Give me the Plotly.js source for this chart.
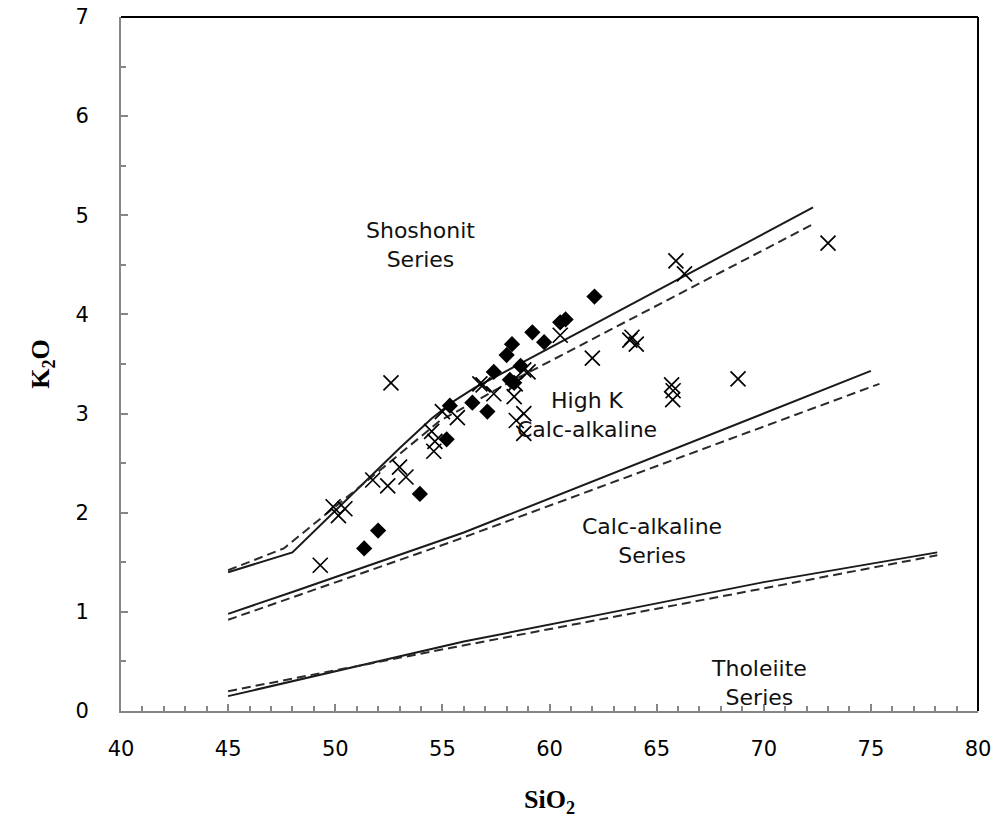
<!DOCTYPE html>
<html><head><meta charset="utf-8">
<script src="https://cdn.plot.ly/plotly-3.0.1.min.js"></script>
<style>html,body{margin:0;padding:0;background:#fff}</style>
</head><body><div id="chart" style="width:995px;height:822px"></div>
<script>
// Sample series: filled diamonds
const diamondSiO2 = [62.1, 60.75, 60.5, 59.2, 59.75, 58.25, 58.0, 58.65, 57.4, 58.15, 58.35, 56.4, 55.35, 57.1, 55.2, 53.95, 52.0, 51.35];
const diamondK2O  = [4.18, 3.95, 3.92, 3.82, 3.72, 3.70, 3.59, 3.48, 3.42, 3.34, 3.31, 3.11, 3.08, 3.02, 2.74, 2.19, 1.82, 1.64];
// Sample series: crosses
const crossSiO2 = [73.0, 65.9, 66.3, 60.5, 62.0, 63.75, 63.85, 64.05, 65.7, 65.77, 65.75, 68.8, 58.8, 59.0, 56.9, 57.4, 58.35, 58.8, 58.45, 58.8, 52.6, 55.0, 55.7, 54.5, 54.65, 54.6, 51.75, 52.45, 53.3, 53.0, 49.9, 50.15, 50.45, 49.3, 58.4, 56.75];
const crossK2O  = [4.72, 4.54, 4.41, 3.79, 3.56, 3.74, 3.77, 3.70, 3.29, 3.23, 3.14, 3.35, 3.44, 3.42, 3.29, 3.20, 3.17, 3.00, 2.93, 2.80, 3.31, 3.02, 2.96, 2.82, 2.72, 2.62, 2.33, 2.27, 2.36, 2.46, 2.06, 1.97, 2.04, 1.47, 3.30, 3.30];
// Boundary lines (solid)
const shoSolidX = [45, 48, 53, 54.5, 55.5, 56.5, 58, 72.3];
const shoSolidY = [1.40, 1.60, 2.65, 2.95, 3.12, 3.26, 3.43, 5.08];
const hkSolidX = [45, 48, 56, 63, 70, 75];
const hkSolidY = [0.98, 1.20, 1.80, 2.40, 3.00, 3.43];
const caSolidX = [45, 48, 56, 63, 70, 78.1];
const caSolidY = [0.15, 0.30, 0.70, 1.00, 1.30, 1.60];
// Boundary lines (dashed)
const shoDashX = [45, 47.6, 52.1, 54.9, 56.5, 58, 72.3];
const shoDashY = [1.42, 1.64, 2.43, 2.93, 3.12, 3.30, 4.91];
const hkDashX = [45, 55.35, 75.4];
const hkDashY = [0.92, 1.70, 3.30];
const caDashX = [45, 55.35, 78.1];
const caDashY = [0.20, 0.635, 1.57];
// Field labels
const fieldText = ["Shoshonit<br>Series", "High K<br>Calc-alkaline", "Calc-alkaline<br>Series", "Tholeiite<br>Series"];
const fieldX = [54.0, 61.75, 64.8, 69.8];
const fieldY = [4.70, 2.99, 1.71, 0.28];
// Axis ticks
const xTicks = [40, 45, 50, 55, 60, 65, 70, 75, 80];
const yTicks = [0, 1, 2, 3, 4, 5, 6, 7];

const solid = {color: '#1a1a1a', width: 2};
const dashed = {color: '#2a2a2a', width: 2, dash: '9px,5px'};
function ln(x, y, line) { return {x: x, y: y, mode: 'lines', line: line, hoverinfo: 'skip', showlegend: false}; }

const traces = [
  ln(shoSolidX, shoSolidY, solid), ln(hkSolidX, hkSolidY, solid), ln(caSolidX, caSolidY, solid),
  ln(shoDashX, shoDashY, dashed), ln(hkDashX, hkDashY, dashed), ln(caDashX, caDashY, dashed),
  {x: crossSiO2, y: crossK2O, mode: 'markers', showlegend: false,
   marker: {symbol: 'x-thin-open', size: 15, color: '#000', line: {color: '#000', width: 1.7}}},
  {x: diamondSiO2, y: diamondK2O, mode: 'markers', showlegend: false,
   marker: {symbol: 'diamond', size: 12.5, color: '#000', line: {width: 0}}}
];

const tickFont = {family: 'DejaVu Sans, Verdana, sans-serif', size: 21, color: '#000'};
const titleFont = {family: 'Liberation Serif, Times New Roman, serif', size: 26, color: '#000', weight: 'bold'};

const layout = {
  width: 995, height: 822,
  margin: {l: 121, r: 17, t: 17, b: 111},
  paper_bgcolor: '#fff', plot_bgcolor: '#fff',
  xaxis: {
    range: [40, 80], tickvals: xTicks, ticktext: xTicks.map(String),
    showgrid: false, zeroline: false, showline: true, linecolor: '#868686', linewidth: 2,
    ticks: 'inside', ticklen: 7, tickwidth: 2, tickcolor: '#868686',
    minor: {dtick: 1, ticks: 'inside', ticklen: 5, tickwidth: 2, tickcolor: '#868686', showgrid: false},
    tickfont: tickFont, ticklabelstandoff: 18,
    title: {text: '<b>SiO<sub>2</sub></b>', font: titleFont, standoff: 30}
  },
  yaxis: {
    range: [0, 7], tickvals: yTicks, ticktext: yTicks.map(String),
    showgrid: false, zeroline: false, showline: true, linecolor: '#868686', linewidth: 2,
    ticks: 'inside', ticklen: 7, tickwidth: 2, tickcolor: '#868686',
    minor: {dtick: 0.5, ticks: 'inside', ticklen: 5, tickwidth: 2, tickcolor: '#868686', showgrid: false},
    tickfont: tickFont, ticklabelstandoff: 26,
    title: {text: '<b>K<sub>2</sub>O</b>', font: titleFont, standoff: 18}
  },
  shapes: [
    {type: 'line', xref: 'paper', yref: 'paper', x0: 0, x1: 1, y0: 1, y1: 1, line: {color: '#000', width: 2}},
    {type: 'line', xref: 'paper', yref: 'paper', x0: 1, x1: 1, y0: 0, y1: 1, line: {color: '#000', width: 2}}
  ],
  annotations: fieldText.map((t, i) => ({
    x: fieldX[i], y: fieldY[i], xref: 'x', yref: 'y', text: t, showarrow: false,
    font: {family: 'DejaVu Sans, Verdana, sans-serif', size: 22, color: '#111'}, align: 'center'
  }))
};

Plotly.newPlot('chart', traces, layout, {displayModeBar: false, staticPlot: true});
</script>
</body></html>
